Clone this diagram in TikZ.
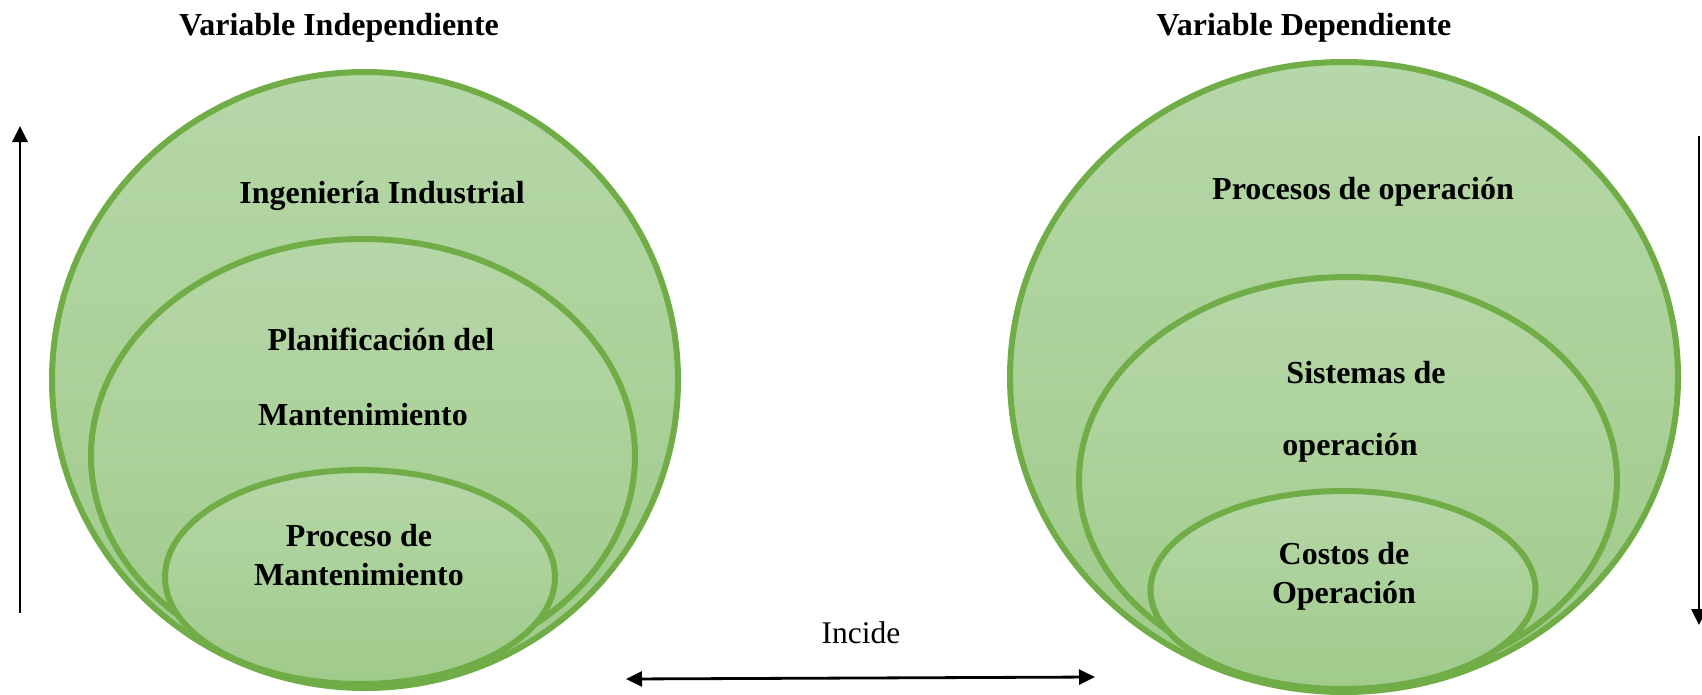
\documentclass[tikz,border=0pt]{standalone}
\usepackage{fontspec}
\setmainfont{Liberation Serif}
\usetikzlibrary{shapes.geometric,arrows.meta}
\definecolor{ringgreen}{RGB}{112,173,71}
\definecolor{filltop}{RGB}{182,215,168}
\definecolor{fillbot}{RGB}{159,203,138}
\tikzset{
  ring/.style={ellipse, draw=ringgreen, line width=6pt, inner sep=0pt,
    top color=filltop, bottom color=fillbot},
  lbl/.style={font=\fontsize{32}{37}\selectfont\bfseries, inner sep=0pt, anchor=center},
  plain/.style={font=\fontsize{31.5}{36}\selectfont, inner sep=0pt},
  arr/.style={line width=2.8pt, -{Triangle[width=15pt,length=16pt]}},
  darr/.style={line width=2.8pt, {Triangle[width=15pt,length=16pt]}-{Triangle[width=15pt,length=16pt]}}
}
\begin{document}
\begin{tikzpicture}[x=1pt,y=-1pt]
\useasboundingbox (0,0) rectangle (1702,694);

% titles
\node[lbl] (tind) at (339,28) {Variable Independiente};
\node[lbl] (tdep) at (1304,28) {Variable Dependiente};

% independent variable: nested ellipses
\node[ring, minimum width=626pt, minimum height=616pt] (lo) at (365,380) {};
\node[ring, minimum width=544pt, minimum height=434pt] (lm) at (363,456) {};
\node[ring, minimum width=390pt, minimum height=214pt] (li) at (360,577) {};

\node[lbl] (t1) at (382,196) {Ingeniería Industrial};
\node[lbl] (t2) at (381,339) {Planificación del};
\node[lbl] (t3) at (363,415) {Mantenimiento};
\node[lbl, align=center] (t4) at (359,555) {Proceso de\\[2pt]Mantenimiento};

% dependent variable: nested ellipses
\node[ring, minimum width=668pt, minimum height=630pt] (ro) at (1344,377) {};
\node[ring, minimum width=538pt, minimum height=406pt] (rm) at (1348,480) {};
\node[ring, minimum width=385pt, minimum height=198pt] (ri) at (1343,590) {};

\node[lbl] (s1) at (1363,192) {Procesos de operación};
\node[lbl] (s2) at (1366,373) {Sistemas de};
\node[lbl] (s3) at (1350,448) {operación};
\node[lbl, align=center] (s4) at (1344,576) {Costos de\\[2pt]Operación};

% side arrows
\coordinate (la) at (20,613);
\coordinate (lb) at (20,126);
\draw[arr] (la) -- (lb);
\coordinate (ra) at (1699,136);
\coordinate (rb) at (1699,625);
\draw[arr] (ra) -- (rb);

% relation arrow
\coordinate (ba) at (626,679);
\coordinate (bb) at (1095,677);
\draw[darr] (ba) -- (bb);
\node[plain] (inc) at (861,633) {Incide};
\end{tikzpicture}
\end{document}
